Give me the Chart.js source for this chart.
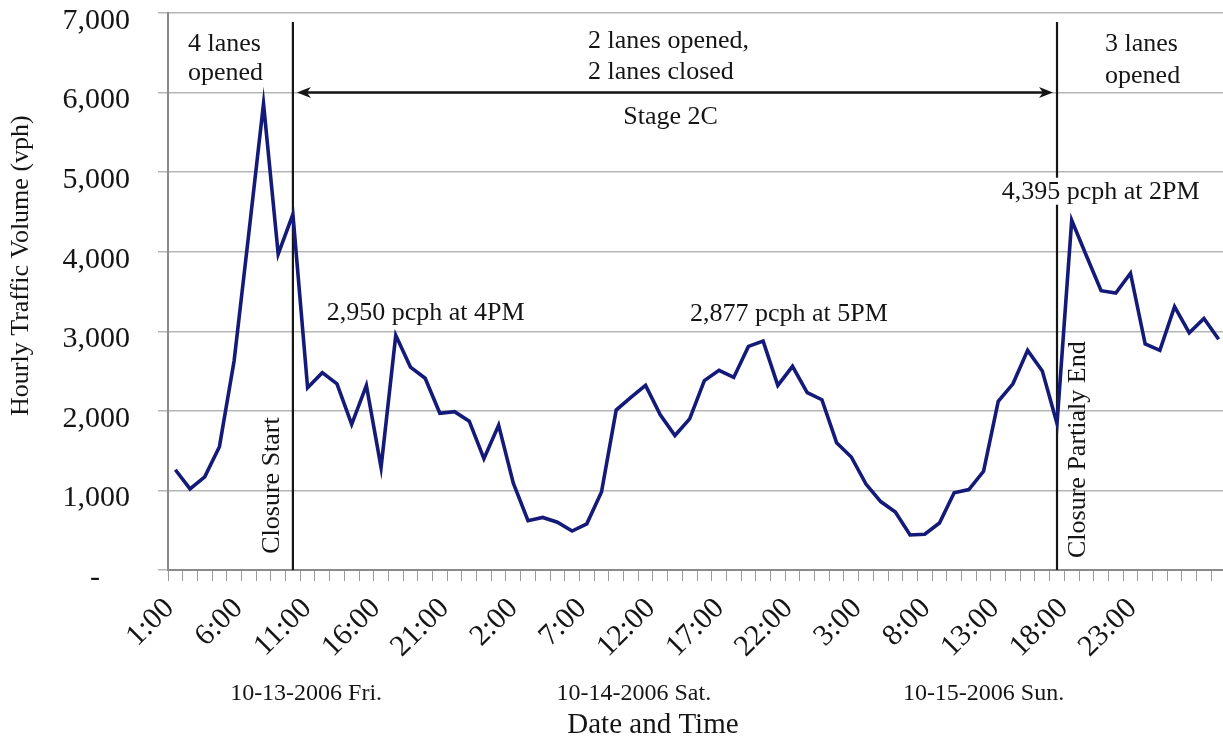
<!DOCTYPE html>
<html>
<head>
<meta charset="utf-8">
<title>Hourly Traffic Volume</title>
<script src="https://cdn.jsdelivr.net/npm/chart.js@4.4.1/dist/chart.umd.min.js"></script>
<style>
  html, body { margin: 0; padding: 0; background: #fff; overflow: hidden; }
  #wrap { width: 1226px; height: 740px; }
</style>
</head>
<body>
<div id="wrap"><canvas id="c" width="1226" height="740"></canvas></div>
<script>
// hourly volumes, 10-13-2006 1:00 through 10-15-2006 24:00
const HOURS = Array.from({ length: 72 }, (_, i) => (i % 24) + 1 + ':00');
const VOLUME = [
  1260, 1020, 1170, 1550, 2630, 4230, 5860, 3970, 4470, 2290,   // 1:00 - 10:00 Fri
  2480, 2340, 1830, 2320, 1290, 2950, 2550, 2410, 1970, 1990,   // 11:00 - 20:00
  1870, 1400, 1820, 1090, 620, 660, 600, 490, 580, 980,         // 21:00 Fri - 6:00 Sat
  2010, 2170, 2320, 1950, 1690, 1900, 2380, 2510, 2420, 2810,   // 7:00 - 16:00
  2877, 2320, 2560, 2230, 2140, 1600, 1420, 1080, 860, 730,     // 17:00 - 2:00 Sun
  440, 450, 590, 970, 1010, 1240, 2120, 2340, 2760, 2500,       // 3:00 - 12:00
  1840, 4395, 3950, 3510, 3480, 3730, 2840, 2760, 3310, 2980,   // 13:00 - 22:00
  3160, 2900,                                                   // 23:00 - 24:00
];
const TICK_LABELS = ['1:00', '6:00', '11:00', '16:00', '21:00', '2:00', '7:00', '12:00',
  '17:00', '22:00', '3:00', '8:00', '13:00', '18:00', '23:00'];
const DATE_LABELS = ['10-13-2006 Fri.', '10-14-2006 Sat.', '10-15-2006 Sun.'];
const DATE_AT = [8.9, 31.2, 55.0];          // where the day names sit, in hour slots
const Y_MAX = 7000, Y_STEP = 1000;

// printed hour labels run a bit tighter than the hourly slots in the source
const LABEL_START = -0.4, LABEL_PITCH = 4.68;

const EVENTS = [
  { at: 8, text: 'Closure Start', dx: -21, mid: 1062 },
  { at: 60, text: 'Closure Partialy End', dx: 21, mid: 1512 },
];
const NOTES = [
  { text: '4 lanes', at: 0.86, v: 6525 },
  { text: 'opened', at: 0.86, v: 6162 },
  { text: '2 lanes opened,', at: 28.08, v: 6562 },
  { text: '2 lanes closed', at: 28.08, v: 6166 },
  { text: 'Stage 2C', at: 33.7, v: 5604, align: 'center' },
  { text: '3 lanes', at: 63.27, v: 6521 },
  { text: 'opened', at: 63.27, v: 6125 },
  { text: '2,950 pcph at 4PM', at: 10.3, v: 3146 },
  { text: '2,877 pcph at 5PM', at: 35.02, v: 3125 },
  { text: '4,395 pcph at 2PM', at: 56.24, v: 4666, knockout: true },
];
const LINE_TOP = 6887, ARROW_V = 6000;

const SERIF = '"Liberation Serif", "Times New Roman", serif';
const INK = '#151515', NAVY = '#141a78';

function arrowHead(ctx, tx, ty, dir) {
  ctx.beginPath();
  ctx.moveTo(tx, ty);
  ctx.lineTo(tx - dir * 14, ty - 5.5);
  ctx.lineTo(tx - dir * 10, ty);
  ctx.lineTo(tx - dir * 14, ty + 5.5);
  ctx.closePath();
  ctx.fill();
}

const notes = {
  id: 'notes',
  beforeDatasetsDraw(chart) {
    const { ctx, scales: { x, y } } = chart;
    ctx.save();
    ctx.strokeStyle = INK; ctx.fillStyle = INK;
    ctx.lineWidth = 2.2;
    EVENTS.forEach((e) => {
      const px = x.getPixelForValue(e.at);
      ctx.beginPath(); ctx.moveTo(px, y.getPixelForValue(LINE_TOP)); ctx.lineTo(px, y.getPixelForValue(0)); ctx.stroke();
    });
    const ay = y.getPixelForValue(ARROW_V);
    const x0 = x.getPixelForValue(EVENTS[0].at) + 4, x1 = x.getPixelForValue(EVENTS[1].at) - 4;
    ctx.lineWidth = 2.5;
    ctx.beginPath(); ctx.moveTo(x0 + 10, ay); ctx.lineTo(x1 - 10, ay); ctx.stroke();
    arrowHead(ctx, x0, ay, -1); arrowHead(ctx, x1, ay, 1);
    ctx.restore();
  },
  afterDatasetsDraw(chart) {
    const { ctx, scales: { x, y } } = chart;
    ctx.save();
    ctx.font = '26px ' + SERIF;
    ctx.fillStyle = INK;
    NOTES.forEach((n) => {
      const px = x.getPixelForValue(n.at), py = y.getPixelForValue(n.v);
      ctx.textAlign = n.align || 'left'; ctx.textBaseline = 'alphabetic';
      if (n.knockout) {
        const w = ctx.measureText(n.text).width;
        ctx.fillStyle = '#fff'; ctx.fillRect(px - 2, py - 21, w + 4, 27); ctx.fillStyle = INK;
      }
      ctx.fillText(n.text, px, py);
    });
    EVENTS.forEach((e) => {
      ctx.save();
      ctx.translate(x.getPixelForValue(e.at) + e.dx, y.getPixelForValue(e.mid));
      ctx.rotate(-Math.PI / 2);
      ctx.textAlign = 'center'; ctx.textBaseline = 'middle';
      ctx.fillText(e.text, 0, 0);
      ctx.restore();
    });
    // axis titles
    ctx.save();
    ctx.translate(21, y.getPixelForValue(3825));
    ctx.rotate(-Math.PI / 2);
    ctx.textAlign = 'center'; ctx.textBaseline = 'middle';
    ctx.fillText('Hourly Traffic Volume (vph)', 0, 0);
    ctx.restore();
    ctx.font = '29px ' + SERIF;
    ctx.textAlign = 'center'; ctx.textBaseline = 'alphabetic';
    ctx.fillText('Date and Time', x.getPixelForValue(32.5), 733);
    ctx.restore();
  },
};

new Chart(document.getElementById('c'), {
  type: 'line',
  data: {
    labels: HOURS,
    datasets: [{ data: VOLUME, borderColor: NAVY, borderWidth: 3.6, pointRadius: 0, tension: 0, fill: false }],
  },
  options: {
    responsive: false, animation: false, devicePixelRatio: 1,
    layout: { padding: { top: 13, left: 0, right: 0, bottom: 0 } },
    plugins: { legend: { display: false }, tooltip: { enabled: false } },
    scales: {
      x: {
        type: 'category', offset: true, weight: 0,
        grid: { offset: true, drawOnChartArea: false, drawTicks: true, tickLength: 11, color: '#9a9a9a', lineWidth: 1 },
        border: { color: '#8a8a8a', width: 2 },
        ticks: { display: false },
        afterFit: (s) => { s.height = 11; s.paddingLeft = 0; s.paddingRight = 0; },
      },
      xl: {
        type: 'linear', position: 'bottom', weight: 1, bounds: 'data', min: -0.5, max: 71.5,
        grid: { display: false, drawTicks: false }, border: { display: false },
        afterBuildTicks: (s) => { s.ticks = TICK_LABELS.map((_, k) => ({ value: LABEL_START + k * LABEL_PITCH })); },
        ticks: {
          font: { family: SERIF, size: 30 }, color: INK, minRotation: 45, maxRotation: 45, padding: 10, autoSkip: false,
          callback: (v, i) => TICK_LABELS[i],
        },
        afterFit: (s) => { s.height = 94; s.paddingLeft = 0; s.paddingRight = 0; },
      },
      xd: {
        type: 'linear', position: 'bottom', weight: 2, bounds: 'data', min: -0.5, max: 71.5,
        grid: { display: false, drawTicks: false }, border: { display: false },
        afterBuildTicks: (s) => { s.ticks = DATE_AT.map((v) => ({ value: v })); },
        ticks: { font: { family: SERIF, size: 24 }, color: INK, maxRotation: 0, padding: 4, autoSkip: false, callback: (v, i) => DATE_LABELS[i] },
        afterFit: (s) => { s.height = 65; s.paddingLeft = 0; s.paddingRight = 0; },
      },
      y: {
        min: 0, max: Y_MAX,
        ticks: {
          stepSize: Y_STEP, font: { family: SERIF, size: 30 }, color: INK, padding: 28, labelOffset: 8,
          callback: (v) => (v === 0 ? '-    ' : v.toLocaleString('en-US')),
        },
        grid: { color: '#b5b5b5', lineWidth: 1.5, tickLength: 10 },
        border: { color: '#8a8a8a', width: 2 },
        afterFit: (s) => { s.width = 168; s.paddingTop = 0; s.paddingBottom = 0; },
      },
    },
  },
  plugins: [notes],
});
</script>
</body>
</html>
